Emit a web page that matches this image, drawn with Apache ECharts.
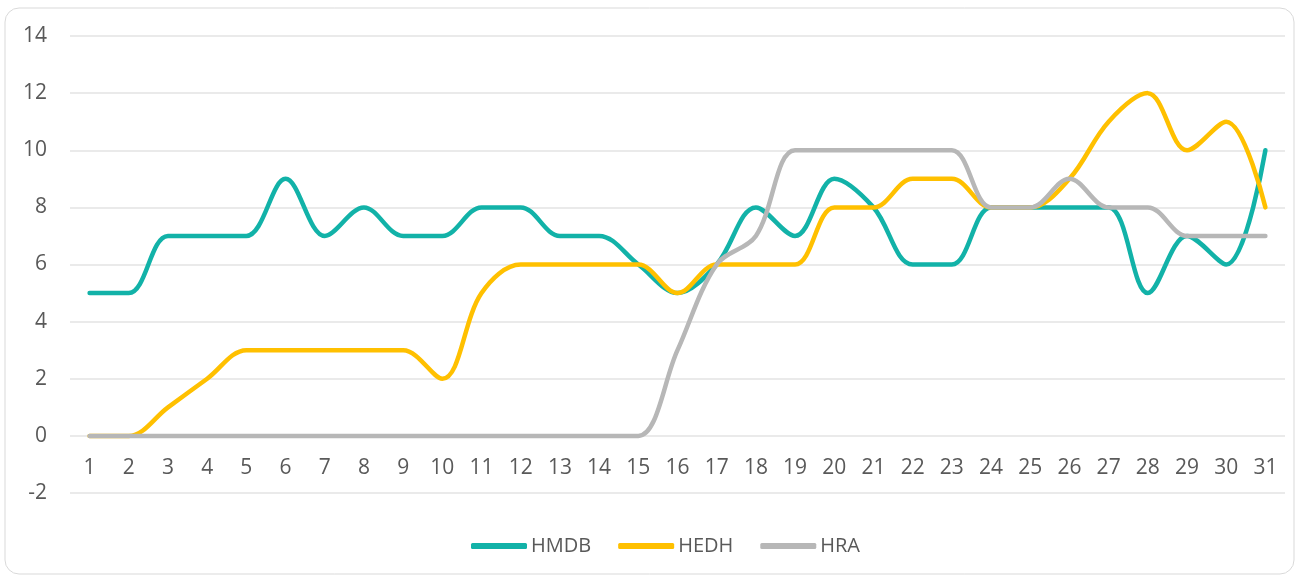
<!DOCTYPE html>
<html>
<head>
<meta charset="utf-8">
<script src="https://cdn.jsdelivr.net/npm/echarts@6/dist/echarts.min.js"></script>
<style>
  html, body { margin: 0; padding: 0; background: #fff; }
  #chart { width: 1300px; height: 578px; }
</style>
</head>
<body>
<div id="chart"></div>
<script>
// 日期 1..31
var days = [];
for (var d = 1; d <= 31; d++) { days.push(String(d)); }

var hmdb = [5, 5, 7, 7, 7, 9, 7, 8, 7, 7, 8, 8, 7, 7, 6, 5, 6, 8, 7, 9, 8, 6, 6, 8, 8, 8, 8, 5, 7, 6, 10];
var hedh = [0, 0, 1, 2, 3, 3, 3, 3, 3, 2, 5, 6, 6, 6, 6, 5, 6, 6, 6, 8, 8, 9, 9, 8, 8, 9, 11, 12, 10, 11, 8];
var hra  = [0, 0, 0, 0, 0, 0, 0, 0, 0, 0, 0, 0, 0, 0, 0, 3, 6, 7, 10, 10, 10, 10, 10, 8, 8, 9, 8, 8, 7, 7, 7];

var seriesNames = ['HMDB', 'HEDH', 'HRA'];
var seriesColors = ['#12B2A8', '#FFC000', '#B7B7B7'];

var yMin = -2, yMax = 14, yStep = 2;
var gridTop = 36, gridBottom = 85, chartHeight = 578;

var myChart = echarts.init(document.getElementById('chart'));

function line(name, data, color) {
	return {
		name: name,
		type: 'line',
		data: data,
		smooth: 0.35,
		symbol: 'none',
		lineStyle: { color: color, width: 4.5, cap: 'round' },
		itemStyle: { color: color }
	};
}

// x 轴标签放在 0 刻度线下方（和原图一致）
var plotHeight = chartHeight - gridTop - gridBottom;
var zeroOffset = -plotHeight * (0 - yMin) / (yMax - yMin);

var option = {
	animation: false,
	textStyle: { fontFamily: 'Open Sans' },
	graphic: [{
		type: 'rect',
		shape: { x: 5, y: 8, width: 1289, height: 566, r: 14 },
		style: { fill: 'none', stroke: '#D9D9D9', lineWidth: 1 },
		silent: true,
		z: -1
	}],
	grid: { left: 70, right: 15, top: gridTop, bottom: gridBottom },
	legend: {
		data: seriesNames,
		top: 531,
		left: 466,
		icon: 'roundRect',
		itemWidth: 56,
		itemHeight: 6,
		itemGap: 27,
		textStyle: { color: '#595959', fontSize: 20, padding: [0, 0, 0, -1] }
	},
	xAxis: {
		type: 'category',
		data: days,
		boundaryGap: true,
		offset: zeroOffset,
		axisLine: { show: false },
		axisTick: { show: false },
		axisLabel: { color: '#595959', fontSize: 21, margin: 22 }
	},
	yAxis: {
		type: 'value',
		min: yMin,
		max: yMax,
		interval: yStep,
		axisLine: { show: false },
		axisTick: { show: false },
		axisLabel: { color: '#595959', fontSize: 21, margin: 23 },
		splitLine: { lineStyle: { color: '#E3E3E3', width: 1.5 } }
	},
	series: [
		line(seriesNames[0], hmdb, seriesColors[0]),
		line(seriesNames[1], hedh, seriesColors[1]),
		line(seriesNames[2], hra, seriesColors[2])
	]
};
myChart.setOption(option);
</script>
</body>
</html>
